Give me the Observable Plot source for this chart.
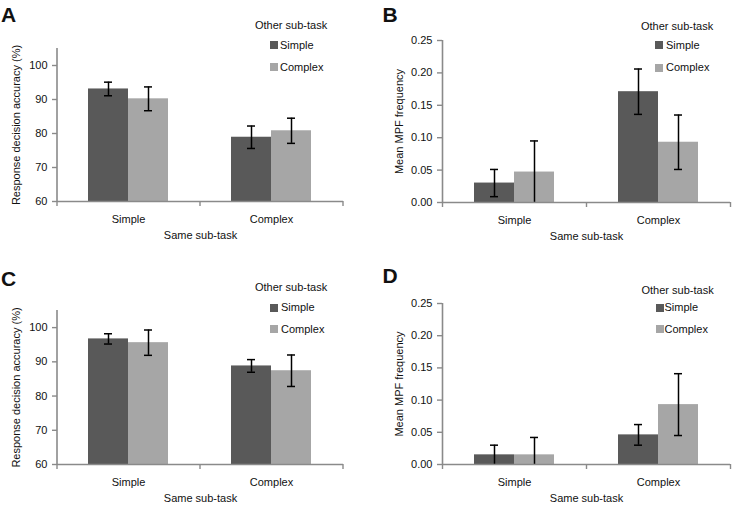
<!DOCTYPE html>
<html>
<head>
<meta charset="utf-8">
<script src="https://cdn.jsdelivr.net/npm/d3@7"></script>
<script src="https://cdn.jsdelivr.net/npm/@observablehq/plot@0.6"></script>
<style>
  html, body { margin: 0; padding: 0; background: #fff; }
  #fig { position: relative; width: 732px; height: 505px; overflow: hidden;
         font-family: "Liberation Sans", Arial, Helvetica, sans-serif; color: #111; }
  .panel { position: absolute; }
  .panel svg { overflow: visible; display: block; }
  .letter { position: absolute; font-weight: bold; font-size: 21px; line-height: 1; }
  .leg { position: absolute; font-size: 11px; line-height: 1; white-space: nowrap; }
  .sw { position: absolute; width: 8px; height: 8px; }
</style>
</head>
<body>
<div id="fig"></div>
<script>
// ---------- data ----------
const sameCats = ["Simple", "Complex"];          // x categories (Same sub-task)
const otherCats = ["Simple", "Complex"];         // series (Other sub-task)
const seriesColors = ["#595959", "#a6a6a6"];

const accTicks = [60, 70, 80, 90, 100];
const mpfTicks = [0, 0.05, 0.10, 0.15, 0.20, 0.25];

// order: [Same Simple/Other Simple, Same Simple/Other Complex, Same Complex/Other Simple, Same Complex/Other Complex]
const aMeans = [93.1, 90.2, 78.9, 80.8];
const aErrs  = [2.0, 3.5, 3.3, 3.7];
const bMeans = [0.030, 0.047, 0.171, 0.093];
const bErrs  = [0.021, 0.048, 0.035, 0.042];
const cMeans = [96.7, 95.6, 88.8, 87.4];
const cErrs  = [1.5, 3.7, 1.85, 4.6];
const dMeans = [0.015, 0.015, 0.046, 0.093];
const dErrs  = [0.015, 0.027, 0.016, 0.048];

const accLabel = "Response decision accuracy (%)";
const mpfLabel = "Mean MPF frequency";
const xLabel = "Same sub-task";
const legendTitle = "Other sub-task";
const panelLetters = ["A", "B", "C", "D"];

function rows(means, errs) {
  return sameCats.flatMap((s, i) => otherCats.map((o, j) => ({
    same: s, other: o, mean: means[i * 2 + j], err: errs[i * 2 + j]
  })));
}

const FONT = '"Liberation Sans", Arial, Helvetica, sans-serif';
const axisCol = "#8a8a8a";

function panel({means, errs, domain, ticks, fmt, ylabel, L}) {
  const data = rows(means, errs);
  const y0 = domain[0];
  const step = (L.width - L.ml - L.mr) / 2;
  const bw = 80;
  const pi = 1 - bw / step;
  const off = bw / 4;
  const capInset = (bw - 8) / 2;
  const s1 = data.filter(d => d.other === otherCats[0]);
  const s2 = data.filter(d => d.other === otherCats[1]);
  const errMarks = [];
  [[s1, -off], [s2, off]].forEach(([ds, dx]) => {
    errMarks.push(
      Plot.ruleX(ds, {x: "same", y1: d => Math.max(y0, d.mean - d.err), y2: d => d.mean + d.err,
        dx, stroke: "#000", strokeWidth: 1.5}),
      Plot.tickY(ds, {x: "same", y: d => d.mean + d.err, dx, insetLeft: capInset, insetRight: capInset,
        stroke: "#000", strokeWidth: 1.5}),
      Plot.tickY(ds.filter(d => d.mean - d.err > y0), {x: "same", y: d => d.mean - d.err, dx,
        insetLeft: capInset, insetRight: capInset, stroke: "#000", strokeWidth: 1.5})
    );
  });
  return Plot.plot({
    width: L.width, height: L.height,
    marginLeft: L.ml, marginRight: L.mr, marginTop: L.mt, marginBottom: L.mb,
    style: {fontFamily: FONT, fontSize: "11px", color: "#111", background: "transparent", overflow: "visible"},
    x: {domain: sameCats, paddingInner: pi, paddingOuter: pi / 2, align: 0.5},
    y: {domain},
    color: {domain: otherCats, range: seriesColors},
    marks: [
      Plot.barY(s1, {x: "same", y1: () => y0, y2: "mean", fill: "other", insetRight: bw / 2}),
      Plot.barY(s2, {x: "same", y1: () => y0, y2: "mean", fill: "other", insetLeft: bw / 2}),
      ...errMarks,
      Plot.ruleY([y0], {stroke: axisCol, strokeWidth: 1.6}),
      Plot.ruleX([sameCats[0]], {x: d => d, dx: -step / 2, stroke: axisCol, strokeWidth: 1.6}),
      Plot.ruleX(sameCats, {x: d => d, dx: -step / 2, y1: () => y0, y2: () => y0, insetBottom: -5, stroke: axisCol, strokeWidth: 1.4}),
      Plot.ruleX([sameCats[1]], {x: d => d, dx: step / 2, y1: () => y0, y2: () => y0, insetBottom: -5, stroke: axisCol, strokeWidth: 1.4}),
      Plot.axisY({ticks, tickFormat: fmt, tickSize: 5, tickPadding: 5, stroke: axisCol, strokeWidth: 1.4,
        label: ylabel, labelArrow: "none", labelAnchor: "center", labelOffset: L.lo}),
      Plot.axisX({tickSize: 0, tickPadding: 14, label: xLabel, labelArrow: "none", labelAnchor: "center", labelOffset: 37})
    ]
  });
}

const fig = document.getElementById("fig");
const specs = [
  {means: aMeans, errs: aErrs, domain: [60, 105], ticks: accTicks, fmt: d3.format("d"), ylabel: accLabel,
   pos: [0, 0], L: {width: 366, height: 250, ml: 57, mr: 23, mt: 48, mb: 49, lo: 45}},
  {means: bMeans, errs: bErrs, domain: [0, 0.25], ticks: mpfTicks, fmt: d3.format(".2f"), ylabel: mpfLabel,
   pos: [366, 0], L: {width: 366, height: 250, ml: 76, mr: 2, mt: 40, mb: 48, lo: 47}},
  {means: cMeans, errs: cErrs, domain: [60, 105], ticks: accTicks, fmt: d3.format("d"), ylabel: accLabel,
   pos: [0, 250], L: {width: 366, height: 255, ml: 57, mr: 23, mt: 60, mb: 41, lo: 45}},
  {means: dMeans, errs: dErrs, domain: [0, 0.25], ticks: mpfTicks, fmt: d3.format(".2f"), ylabel: mpfLabel,
   pos: [366, 250], L: {width: 366, height: 255, ml: 76, mr: 2, mt: 53, mb: 41, lo: 47}}
];
specs.forEach(s => {
  const div = document.createElement("div");
  div.className = "panel";
  div.style.left = s.pos[0] + "px";
  div.style.top = s.pos[1] + "px";
  div.appendChild(panel(s));
  fig.appendChild(div);
});

// panel letters
const letterPos = [[1, 4.3], [382.5, 4.3], [1, 268.3], [382.5, 265.3]];
panelLetters.forEach((t, i) => {
  const el = document.createElement("div");
  el.className = "letter";
  el.textContent = t;
  el.style.left = letterPos[i][0] + "px";
  el.style.top = letterPos[i][1] + "px";
  fig.appendChild(el);
});

// legends
const legPos = [
  {tx: 255, tt: 20, rows: [39.5, 61.8], sw: 270, txt: 280},
  {tx: 641, tt: 20.6, rows: [39.6, 62], sw: 655, txt: 666},
  {tx: 255, tt: 282, rows: [302, 323.6], sw: 270, txt: 281},
  {tx: 641.5, tt: 285.3, rows: [302, 323.6], sw: 655.5, txt: 664.5}
];
function addText(txt, x, y) {
  const el = document.createElement("div");
  el.className = "leg";
  el.textContent = txt;
  el.style.left = x + "px";
  el.style.top = y + "px";
  fig.appendChild(el);
}
legPos.forEach(p => {
  addText(legendTitle, p.tx, p.tt);
  otherCats.forEach((c, j) => {
    const sw = document.createElement("div");
    sw.className = "sw";
    sw.style.background = seriesColors[j];
    sw.style.left = p.sw + "px";
    sw.style.top = (p.rows[j] + 1.5) + "px";
    fig.appendChild(sw);
    addText(c, p.txt, p.rows[j]);
  });
});
</script>
</body>
</html>
